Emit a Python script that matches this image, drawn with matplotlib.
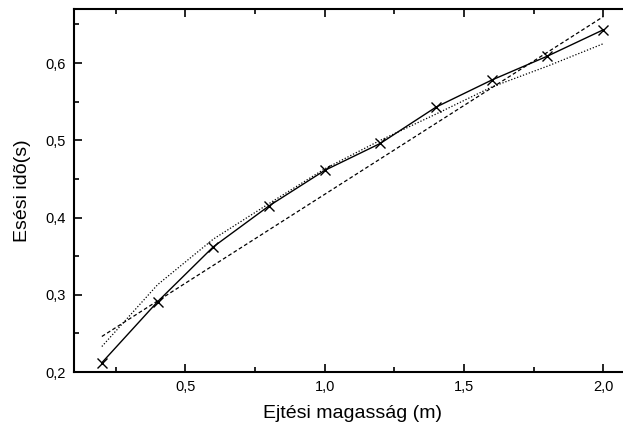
import matplotlib
matplotlib.use('Agg')
import matplotlib.pyplot as plt
from matplotlib.ticker import MultipleLocator, FuncFormatter

plt.rcParams['font.family'] = ['Liberation Sans', 'DejaVu Sans']

# meresi adatok
magassag = [0.2, 0.4, 0.6, 0.8, 1.0, 1.2, 1.4, 1.6, 1.8, 2.0]
ido = [0.212, 0.291, 0.362, 0.415, 0.461, 0.496, 0.543, 0.578, 0.609, 0.643]

# linearis illesztes (szaggatott)
lin_x = [0.2, 2.0]
lin_y = [0.246, 0.660]

# hatvany illesztes (pontozott)
hatv_y = [0.233, 0.313, 0.372, 0.418, 0.463, 0.500, 0.534, 0.569, 0.596, 0.625]


def vesszo(v, pos):
    return ('%.1f' % v).replace('.', ',')


fig = plt.figure(figsize=(6.23, 4.30), dpi=100)
ax = fig.add_axes([74/623, 58/430, 557/623, 363/430])

ax.plot(lin_x, lin_y, color='k', lw=0.9, ls=(0, (3, 2)))
ax.plot(magassag, hatv_y, color='k', lw=0.9, ls=(0, (1, 1.5)))
ax.plot(magassag, ido, color='k', lw=1.0, marker='x', markersize=7.5, markeredgewidth=1.0)

ax.set_xlim(0.1, 2.1)
ax.set_ylim(0.2, 0.67)

ax.xaxis.set_major_locator(MultipleLocator(0.5))
ax.xaxis.set_minor_locator(MultipleLocator(0.25))
ax.yaxis.set_major_locator(MultipleLocator(0.1))
ax.yaxis.set_minor_locator(MultipleLocator(0.05))
ax.xaxis.set_major_formatter(FuncFormatter(vesszo))
ax.yaxis.set_major_formatter(FuncFormatter(vesszo))

ax.tick_params(which='both', direction='in', top=True, right=True, labelsize=10.5, width=1.2)
ax.tick_params(which='major', length=6, pad=6)
ax.tick_params(which='minor', length=3.5)
for s in ax.spines.values():
    s.set_linewidth(1.5)

ax.set_xlabel('Ejtési magasság (m)', fontsize=14, labelpad=8)
ax.set_ylabel('Esési idõ(s)', fontsize=14, labelpad=10)

plt.savefig('out.png', dpi=100)
